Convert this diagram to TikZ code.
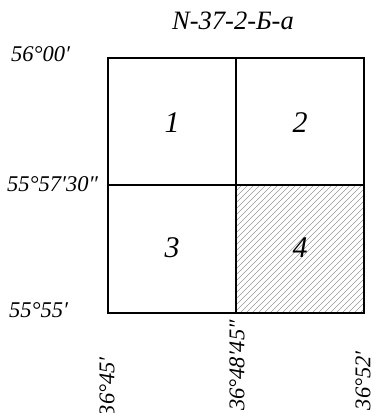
\documentclass[tikz,border=0pt]{standalone}
\usepackage{fontspec}
\setmainfont{Liberation Serif}
\begin{document}
\begin{tikzpicture}[x=1pt,y=-1pt,
  lbl/.style={font=\itshape\fontsize{22.5}{22.5}\selectfont, inner sep=0pt},
  num/.style={font=\itshape\fontsize{30}{30}\selectfont, inner sep=0pt},
  frame/.style={line width=1.3pt, black},
  hatch/.style={gray!80, line width=0.45pt}]
\useasboundingbox (0,0) rectangle (372,413);
\coordinate (tl) at (108,58);
\coordinate (br) at (364,313);
\coordinate (mid) at (236,185);
% hatching of quarter 4
\begin{scope}
\clip (236,185) rectangle (364,313);
\foreach \k in {0,6,...,280} {
  \draw[hatch] (236+\k-128,313) -- (236+\k,185);
}
\end{scope}
\draw[frame] (tl) rectangle (br);
\draw[frame] (236,58) -- (236,313);
\draw[frame] (108,185) -- (364,185);
\node[lbl, font=\itshape\fontsize{26.5}{26.5}\selectfont] (title) at (233,21) {N-37-2-Б-а};
\node[num] (q1) at (172,123) {1};
\node[num] (q2) at (300,123) {2};
\node[num] (q3) at (172,248) {3};
\node[num] (q4) at (300,248) {4};
\node[lbl, anchor=west] (l1) at (11,54) {56°00′};
\node[lbl, anchor=west] (l2) at (7,184) {55°57′30″};
\node[lbl, anchor=west] (l3) at (9,310) {55°55′};
\node[lbl, rotate=90, anchor=east] (b1) at (107,357) {36°45′};
\node[lbl, rotate=90, anchor=east] (b2) at (237,320) {36°48′45″};
\node[lbl, rotate=90, anchor=east] (b3) at (363,351) {36°52′};
\end{tikzpicture}
\end{document}
